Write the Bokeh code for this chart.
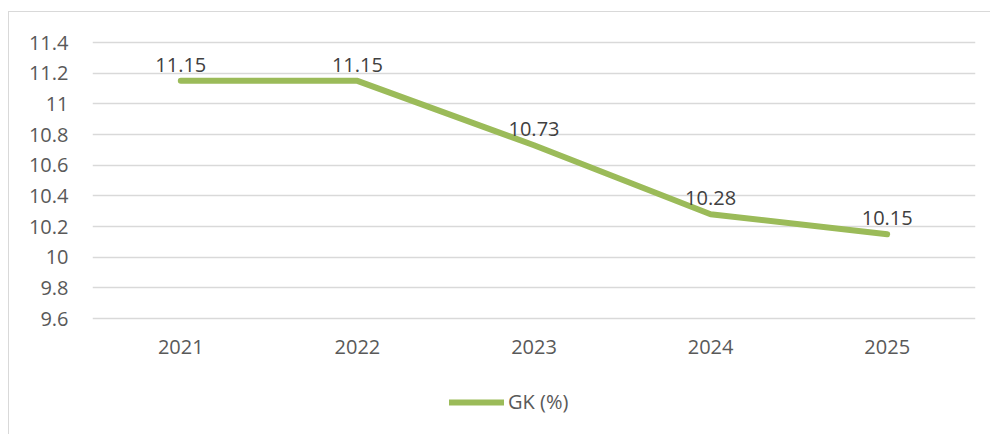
from bokeh.plotting import figure
from bokeh.models import Range1d, FixedTicker, Legend, LegendItem, ColumnDataSource
from bokeh.embed import file_html
from bokeh.resources import INLINE
from bokeh.core.properties import value

years = ["2021", "2022", "2023", "2024", "2025"]
gk = [11.15, 11.15, 10.73, 10.28, 10.15]
gk_labels = ["11.15", "11.15", "10.73", "10.28", "10.15"]
y_ticks = [9.6, 9.8, 10.0, 10.2, 10.4, 10.6, 10.8, 11.0, 11.2, 11.4]
y_tick_labels = ["9.6", "9.8", "10", "10.2", "10.4", "10.6", "10.8", "11", "11.2", "11.4"]
series_name = "GK (%)"
y_min, y_max = 9.6, 11.4

FONT = "Open Sans"
GREEN = "#9bbb59"

# pixel geometry of the plot frame (page coordinates)
frame_top, axis_bottom_px, page_bottom = 39, 317, 434
px_per_unit = (axis_bottom_px - 41) / (y_max - y_min)
y_end = y_max + (41 - frame_top) / px_per_unit
y_start = y_min - (page_bottom - axis_bottom_px) / px_per_unit

src = ColumnDataSource(dict(x=years, y=gk, lab=gk_labels))

p = figure(x_range=years, y_range=Range1d(y_start, y_end), width=982, height=423,
           output_backend="svg", toolbar_location=None,
           min_border_left=83, min_border_right=16, min_border_top=28, min_border_bottom=0)
p.margin = (11, 0, 0, 8)
p.styles = {"border-left": "1px solid #d9d9d9", "border-top": "1px solid #d9d9d9"}
p.x_range.range_padding = 0
p.outline_line_color = None

p.yaxis.ticker = FixedTicker(ticks=y_ticks)
p.yaxis.major_label_overrides = {t: l for t, l in zip(y_ticks, y_tick_labels)}
p.xaxis.fixed_location = y_min
for ax in (p.xaxis, p.yaxis):
    ax.axis_line_color = None
    ax.major_tick_line_color = None
    ax.minor_tick_line_color = None
    ax.major_label_text_font = FONT
    ax.major_label_text_font_size = "20px"
    ax.major_label_text_color = "#595959"
p.yaxis.major_label_standoff = 18
p.xaxis.major_label_standoff = 15

p.xgrid.grid_line_color = None
p.ygrid.grid_line_color = "#d9d9d9"
p.ygrid.grid_line_width = 1.5

r = p.line("x", "y", source=src, line_color=GREEN, line_width=6, line_cap="round", line_join="round")
p.text("x", "y", text="lab", source=src, text_font=value(FONT), text_font_size="20px",
       text_color="#404040", text_align="center", text_baseline="middle", y_offset=-16)

legend = Legend(items=[LegendItem(label=series_name, renderers=[r])], orientation="horizontal",
                location=(357, 20), label_text_font=FONT, label_text_font_size="20px",
                label_text_color="#595959", glyph_width=55, glyph_height=20, label_height=20,
                label_standoff=4, border_line_color=None, background_fill_alpha=0,
                padding=0, margin=0)
p.add_layout(legend)

open("out.html", "w").write(file_html(p, INLINE))
